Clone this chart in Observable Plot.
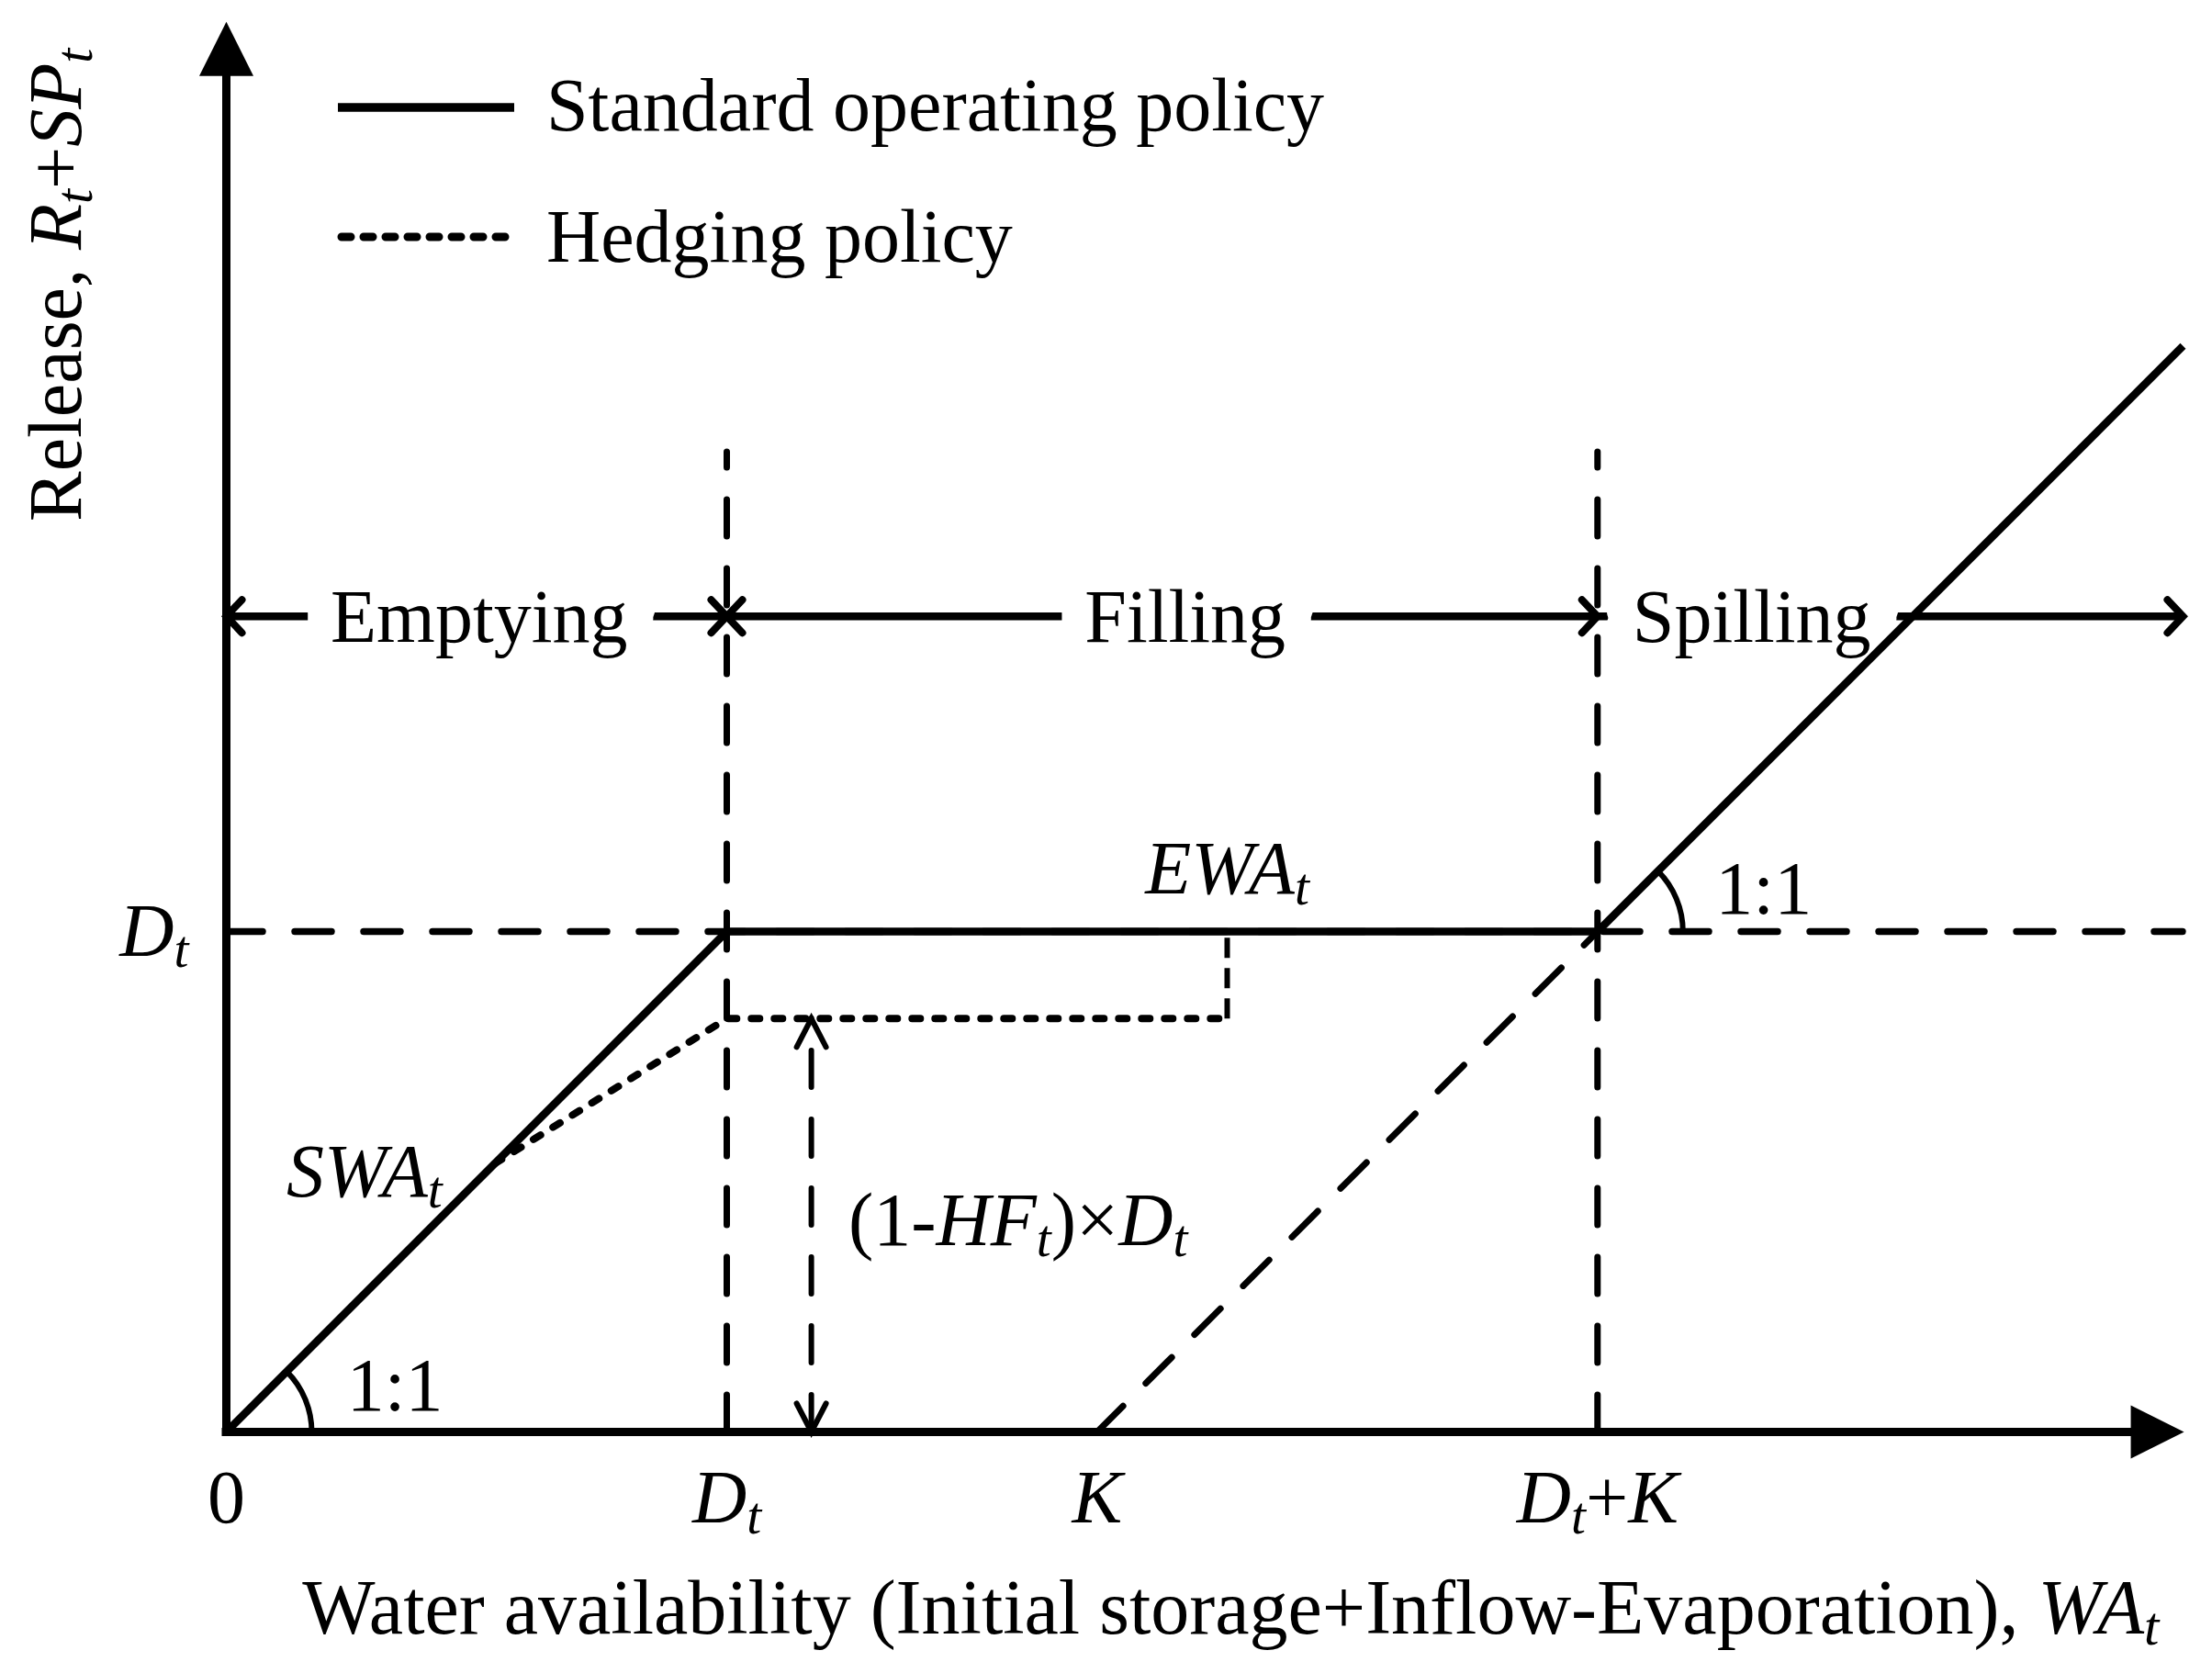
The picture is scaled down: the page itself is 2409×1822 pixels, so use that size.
<!DOCTYPE html>
<html>
<head>
<meta charset="utf-8">
<script src="https://cdn.jsdelivr.net/npm/d3@7"></script>
<script src="https://cdn.jsdelivr.net/npm/@observablehq/plot@0.6"></script>
<style>
  html, body { margin: 0; padding: 0; background: #fff; }
  #wrap { position: relative; width: 2409px; height: 1822px; background: #fff; }
  #wrap > svg { position: absolute; left: 0; top: 0; }
</style>
</head>
<body>
<div id="wrap"></div>
<script>
// ---------------- DATA (water availability / release, in units of the demand D_t) ----------------
// Axis tick positions and labels (*x* = italic, _t_ = italic subscript)
const xTickValues = [0, 1.0, 1.74, 2.74];
const xTickLabels = ["0", "*D*_t_", "*K*", "*D*_t_+*K*"];
const yTickValues = [1.0];
const yTickLabels = ["*D*_t_"];

// Standard operating policy
const sopWA      = [0, 1.0, 2.74, 3.91];
const sopRelease = [0, 1.0, 1.0, 2.17];

// Hedging policy (starts at SWA_t, ends at EWA_t)
const hedgeWA      = [0.536, 1.0, 2.0];
const hedgeRelease = [0.536, 0.826, 0.826];
const ewaWA        = [2.0, 2.0];
const ewaRelease   = [0.826, 1.0];

// Spill line (dashed) from K to D_t + K
const spillWA      = [1.74, 2.74];
const spillRelease = [0, 1.0];

// Demand level and guide lines
const demandLevel  = 1.0;
const demandLineWA = [0, 3.91];
const guideWA      = [1.0, 2.74];
const guideTop     = 1.958;

// Operating phases
const phaseNames = ["Emptying", "Filling", "Spilling"];
const phaseStart = [0, 1.0, 2.74];
const phaseEnd   = [1.0, 2.74, 3.91];
const phaseStartHead = [true, true, false];
const phaseEndHead   = [true, true, true];

// (1-HF_t) x D_t double arrow
const hfWA = 1.169;
const hfRelease = [0, 0.826];

// 1:1 slope markers
const slopeWA      = [0, 2.74];
const slopeRelease = [0, 1.0];

// Texts
const legendLabels = ["Standard operating policy", "Hedging policy"];
const xTitle = "Water availability (Initial storage+Inflow-Evaporation), *WA*_t_";
const yTitle = "Release, *R*_t_+*SP*_t_";

// ---------------- LAYOUT (annotation anchors in data units) ----------------
const phaseLevel = 1.63, phaseLabelLevel = 1.578;
const phaseLabelX = [0.505, 1.916, 3.048];
const annotations = [
  {text: "*SWA*_t_", x: 0.276, y: 0.470},
  {text: "*EWA*_t_", x: 2.0, y: 1.077},
  {text: "(1-*HF*_t_)×*D*_t_", x: 1.582, y: 0.374},
  {text: "1:1", x: 0.337, y: 0.044},
  {text: "1:1", x: 3.072, y: 1.035}
];
const axisEnd = {x: 3.912, y: 2.818};

// ---------------- BUILD ----------------
const W = 2409, H = 1822;
const ML = 246, MB = 263, PX = 545;
const xDomain = [0, 3.95], yDomain = [0, 2.85];
const MR = W - ML - PX * xDomain[1];
const MT = H - MB - PX * yDomain[1];
const FONT = "'Liberation Serif', 'Times New Roman', Times, serif";
const FS = 82;

const zip = (xs, ys) => xs.map((x, i) => ({x, y: ys[i]}));
const sop = zip(sopWA, sopRelease);
const hedge = zip(hedgeWA, hedgeRelease);
const ewa = zip(ewaWA, ewaRelease);
const spill = zip(spillWA, spillRelease);
const phases = phaseNames.map((name, i) => ({name, start: phaseStart[i], end: phaseEnd[i], lx: phaseLabelX[i]}));
const leftHeads = phases.filter((p, i) => phaseStartHead[i]).map(p => ({x: p.start}));
const rightHeads = phases.filter((p, i) => phaseEndHead[i]).map(p => ({x: p.end}));
const slopes = zip(slopeWA, slopeRelease);

// custom symbols
const upTriangle = {draw(c) { c.moveTo(0, 0); c.lineTo(-29.5, 59); c.lineTo(29.5, 59); c.closePath(); }};
const rightTriangle = {draw(c) { c.moveTo(0, 0); c.lineTo(-58, -29); c.lineTo(-58, 29); c.closePath(); }};
function chevron(depth, half, dir) {
  return {draw(c) {
    if (dir === "right") { c.moveTo(-depth, -half); c.lineTo(0, 0); c.lineTo(-depth, half); }
    if (dir === "left")  { c.moveTo(depth, -half);  c.lineTo(0, 0); c.lineTo(depth, half); }
    if (dir === "up")    { c.moveTo(-half, depth);  c.lineTo(0, 0); c.lineTo(half, depth); }
    if (dir === "down")  { c.moveTo(-half, -depth); c.lineTo(0, 0); c.lineTo(half, -depth); }
  }};
}
const arcSymbol = {draw(c) { const R = 93; c.moveTo(R, 0); c.arc(0, 0, R, 0, -Math.PI / 4, true); }};

const dash = "40,35";

const chart = Plot.plot({
  width: W, height: H,
  marginLeft: ML, marginRight: MR, marginTop: MT, marginBottom: MB,
  style: {fontFamily: FONT, fontSize: FS + "px", background: "white", color: "black", overflow: "visible"},
  x: {domain: xDomain, ticks: xTickValues, tickFormat: d => xTickLabels[xTickValues.indexOf(d)], tickSize: 0, tickPadding: 40, label: null},
  y: {domain: yDomain, ticks: yTickValues, tickFormat: d => yTickLabels[yTickValues.indexOf(d)], tickSize: 0, tickPadding: 41, label: null},
  marks: [
    // phase arrow shafts
    Plot.ruleY(phases, {y: phaseLevel, x1: "start", x2: "end", stroke: "black", strokeWidth: 8.5}),
    // phase labels with white halo (creates the gaps in the arrows)
    Plot.text(phases, {x: "lx", y: phaseLabelLevel, text: "name", fontSize: FS, lineAnchor: "bottom",
      stroke: "white", strokeWidth: 68, strokeLinejoin: "round", paintOrder: "stroke", fill: "black"}),
    // demand level dashed line
    Plot.ruleY([demandLevel], {x1: demandLineWA[0], x2: demandLineWA[1], stroke: "black", strokeWidth: 7.5, strokeDasharray: dash, strokeLinecap: "round"}),
    // vertical guides
    Plot.ruleX(guideWA, {y1: 0, y2: guideTop, stroke: "black", strokeWidth: 7, strokeDasharray: dash, strokeLinecap: "round"}),
    // spill dashed diagonal
    Plot.line(spill, {x: "x", y: "y", stroke: "black", strokeWidth: 7, strokeDasharray: dash, strokeLinecap: "round"}),
    // EWA connector
    Plot.line(ewa, {x: "x", y: "y", stroke: "black", strokeWidth: 6, strokeDasharray: "22,11", strokeLinecap: "butt"}),
    // hedging policy
    Plot.line(hedge, {x: "x", y: "y", stroke: "black", strokeWidth: 8, strokeDasharray: "9,16", strokeLinecap: "round"}),
    // standard operating policy
    Plot.line(sop, {x: "x", y: "y", stroke: "black", strokeWidth: 8.5, strokeLinejoin: "miter", strokeLinecap: "butt"}),
    // (1-HF) x D double arrow
    Plot.ruleX([hfWA], {y1: hfRelease[0], y2: hfRelease[1], stroke: "black", strokeWidth: 6, strokeDasharray: dash, strokeLinecap: "round"}),
    Plot.dot([{x: hfWA, y: hfRelease[1]}], {x: "x", y: "y", symbol: chevron(31, 16, "up"), r: 1, fill: "none", stroke: "black", strokeWidth: 6, strokeLinecap: "round"}),
    Plot.dot([{x: hfWA, y: hfRelease[0]}], {x: "x", y: "y", symbol: chevron(31, 16, "down"), r: 1, fill: "none", stroke: "black", strokeWidth: 6, strokeLinecap: "round"}),
    // phase arrowheads
    Plot.dot(leftHeads, {x: "x", y: phaseLevel, symbol: chevron(17, 18, "left"), r: 1, fill: "none", stroke: "black", strokeWidth: 8, strokeLinecap: "round"}),
    Plot.dot(rightHeads, {x: "x", y: phaseLevel, symbol: chevron(17, 18, "right"), r: 1, fill: "none", stroke: "black", strokeWidth: 8, strokeLinecap: "round"}),
    // 1:1 arcs
    Plot.dot(slopes, {x: "x", y: "y", symbol: arcSymbol, r: 1, fill: "none", stroke: "black", strokeWidth: 6}),
    // axes lines and arrowheads
    Plot.ruleX([0], {y1: 0, y2: axisEnd.y - 0.07, stroke: "black", strokeWidth: 9}),
    Plot.ruleY([0], {x1: 0, x2: axisEnd.x - 0.07, stroke: "black", strokeWidth: 9, strokeLinecap: "square"}),
    Plot.dot([{x: 0, y: axisEnd.y}], {x: "x", y: "y", symbol: upTriangle, r: 1, fill: "black", stroke: "none"}),
    Plot.dot([{x: axisEnd.x, y: 0}], {x: "x", y: "y", symbol: rightTriangle, r: 1, fill: "black", stroke: "none"}),
    // annotations
    Plot.text(annotations, {x: "x", y: "y", text: "text", fontSize: FS, lineAnchor: "bottom", fill: "black"}),
    // axis titles
    Plot.text([xTitle], {x: 2.007, y: -0.402, text: d => d, fontSize: 84, lineAnchor: "bottom", fill: "black"}),
    Plot.text([yTitle], {x: -0.29, y: 2.292, text: d => d, fontSize: FS, lineAnchor: "bottom", rotate: -90, fill: "black"})
  ]
});

// rich text: *italic*, _subscript_
const svgNS = "http://www.w3.org/2000/svg";
const SUB = 12;
function richify(root) {
  root.querySelectorAll("text").forEach(t => {
    const s = t.textContent;
    if (!/[*_]/.test(s)) return;
    const parts = s.split(/(\*[^*]+\*|_[^_]+_)/).filter(p => p.length);
    while (t.firstChild) t.removeChild(t.firstChild);
    let shifted = false;
    for (const p of parts) {
      const ts = document.createElementNS(svgNS, "tspan");
      if (p[0] === "_") {
        ts.textContent = p.slice(1, -1);
        ts.setAttribute("font-style", "italic");
        ts.setAttribute("font-size", "0.7em");
        ts.setAttribute("dy", SUB);
        shifted = true;
      } else {
        if (p[0] === "*") { ts.textContent = p.slice(1, -1); ts.setAttribute("font-style", "italic"); }
        else ts.textContent = p;
        if (shifted) { ts.setAttribute("dy", -SUB); shifted = false; }
      }
      t.appendChild(ts);
    }
  });
}
richify(chart);

const wrap = document.getElementById("wrap");
wrap.appendChild(chart);

// legend overlay
const legend = d3.create("svg").attr("width", W).attr("height", 330)
  .style("font-family", FONT).style("font-size", FS + "px");
legend.append("line").attr("x1", 368).attr("x2", 560).attr("y1", 117).attr("y2", 117)
  .attr("stroke", "black").attr("stroke-width", 9.5);
legend.append("text").attr("x", 595).attr("y", 142).text(legendLabels[0]);
legend.append("line").attr("x1", 372).attr("x2", 560).attr("y1", 258).attr("y2", 258)
  .attr("stroke", "black").attr("stroke-width", 9).attr("stroke-dasharray", "10,14").attr("stroke-linecap", "round");
legend.append("text").attr("x", 595).attr("y", 285).text(legendLabels[1]);
wrap.appendChild(legend.node());
</script>
</body>
</html>
